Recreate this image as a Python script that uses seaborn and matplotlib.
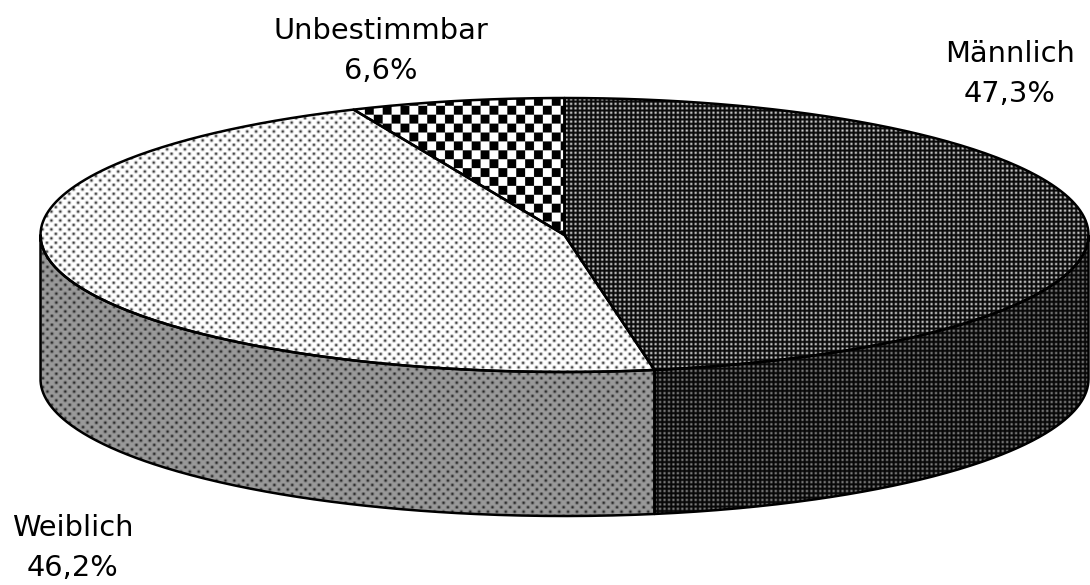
import numpy as np
import matplotlib
matplotlib.use("Agg")
import matplotlib.pyplot as plt
from matplotlib.path import Path
from matplotlib.patches import PathPatch
import seaborn as sns

categories = ["Männlich", "Weiblich", "Unbestimmbar"]
shares = [47.3, 46.2, 6.6]
share_labels = ["47,3%", "46,2%", "6,6%"]

WIDTH, HEIGHT = 1090, 585
CX, CY, RX, RY, DEPTH = 564.5, 235, 524, 137, 144
INK = "#000000"

sns.set_theme(style="white", rc={"savefig.facecolor": "white"})
plt.rcParams["font.family"] = ["DejaVu Sans"]

yy, xx = np.mgrid[0:HEIGHT, 0:WIDTH] + 0.5


def dots(bg, dot, anchor, px=8.9, py=4.45, sigma=1.05):
    """Staggered dot screen on a flat grey ground."""
    row = np.round((yy - anchor[1]) / py)
    shift = (row % 2) * px / 2
    dx = (xx - anchor[0] - shift + px / 2) % px - px / 2
    dy = yy - anchor[1] - row * py
    g = np.exp(-(dx ** 2 + dy ** 2) / (2 * sigma ** 2))
    return bg + (dot - bg) * g


def mesh(low, high, pitch=4.45):
    """Fine woven screen: light cells between dark grid lines."""
    g = ((1 + np.cos(2 * np.pi * (xx - 1.5) / pitch)) / 2
         * (1 + np.cos(2 * np.pi * (yy - 1.5) / pitch)) / 2)
    return low + (high - low) * g


def checker(cell=8.9, yshift=1.0, soft=0.55):
    """Coarse black and white checkerboard with softened cell borders."""
    ax_ = np.clip(np.sin(np.pi * xx / cell) * cell / (np.pi * soft), -1, 1)
    ay_ = np.clip(np.sin(np.pi * (yy + yshift) / cell) * cell / (np.pi * soft), -1, 1)
    return 0.5 + 0.5 * ax_ * ay_


def rim(theta):
    """Clockwise angle from twelve o'clock to a point on the top ellipse."""
    return CX + RX * np.sin(theta), CY - RY * np.cos(theta)


def wedge_path(a, b):
    t = np.linspace(a, b, 240)
    x, y = rim(t)
    return Path(np.r_[[[CX, CY]], np.c_[x, y], [[CX, CY]]])


def wall_path(a, b):
    t = np.linspace(a, b, 240)
    x, y = rim(t)
    return Path(np.r_[np.c_[x, y], np.c_[x, y + DEPTH][::-1], [[x[0], y[0]]]])


def paint(ax, path, pattern):
    patch = PathPatch(path, transform=ax.transData, facecolor="none", edgecolor="none")
    ax.add_patch(patch)
    im = ax.imshow(pattern, cmap="gray", vmin=0, vmax=1, extent=(0, WIDTH, HEIGHT, 0),
                   interpolation="nearest", aspect="auto", zorder=1)
    im.set_clip_path(patch)


def outline(ax, path):
    ax.add_patch(PathPatch(path, facecolor="none", edgecolor=INK, lw=1.8,
                           joinstyle="round", zorder=3))


fig = plt.figure(figsize=(WIDTH / 100, HEIGHT / 100), dpi=100)
ax = fig.add_axes([0, 0, 1, 1])

total = sum(shares)
edges = 2 * np.pi * np.cumsum([0] + shares) / total
male_a, male_b = edges[0], edges[1]
female_b = edges[2]

# Side walls: only the front half of the disc shows a wall.
male_wall = wall_path(np.pi / 2, male_b)
female_wall = wall_path(male_b, 3 * np.pi / 2)
paint(ax, male_wall, mesh(0.03, 0.50))
paint(ax, female_wall, dots(0.60, 0.15, (310, 422.7)))

# Top faces of the three slices.
top_paths = [wedge_path(male_a, male_b), wedge_path(male_b, female_b),
             wedge_path(female_b, edges[3])]
top_patterns = [mesh(0.04, 0.80), dots(1.0, 0.22, (202.7, 202.7)), checker()]
for path, pattern in zip(top_paths, top_patterns):
    paint(ax, path, pattern)

outline(ax, male_wall)
outline(ax, female_wall)
for path in top_paths:
    outline(ax, path)

# Category and percentage labels around the disc.
label_pos = [(1010, 74), (73, 548), (381, 51)]
for name, pct, (x, y) in zip(categories, share_labels, label_pos):
    ax.text(x, y, f"{name}\n{pct}", ha="center", va="center", fontsize=20.8,
            color=INK, linespacing=1.52, zorder=4)

ax.set_xlim(0, WIDTH)
ax.set_ylim(HEIGHT, 0)
ax.axis("off")
fig.savefig("out.png", dpi=100)
